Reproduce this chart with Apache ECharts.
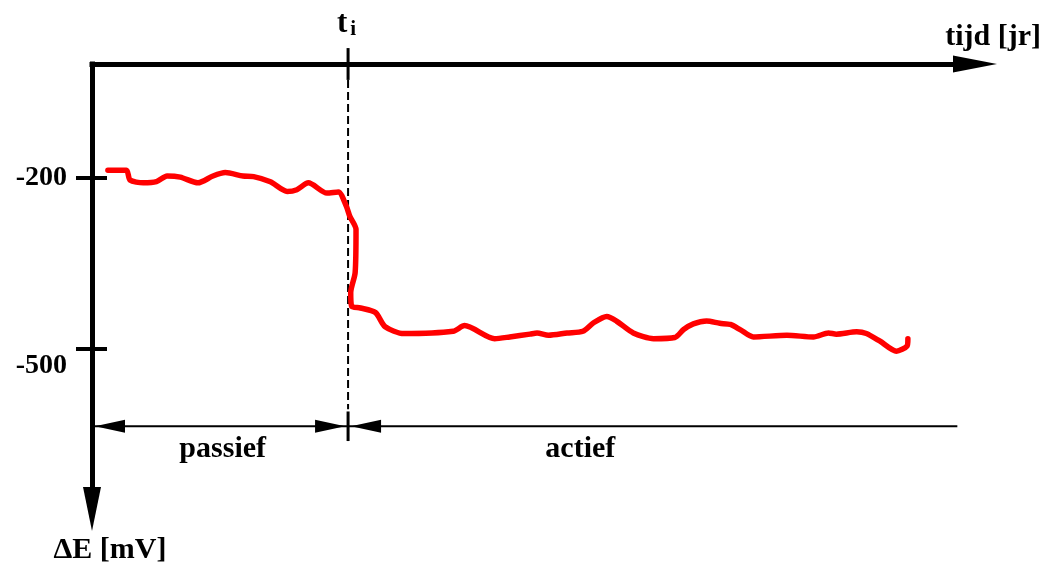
<!DOCTYPE html>
<html><head><meta charset="utf-8">
<script src="https://cdn.jsdelivr.net/npm/echarts@6/dist/echarts.min.js"></script>
<style>html,body{margin:0;padding:0;background:#fff}#c{width:1044px;height:565px}</style>
</head><body><div id="c"></div>
<script>
// time (arbitrary units, 0..100 along the axis)
const timeVals = [1.8, 3.9, 4.3, 5.8, 7.3, 8.5, 10.0, 12.0, 13.7, 15.1, 17.1, 18.3, 20.2, 22.1, 23.2,
  24.5, 26.6, 27.9, 28.8, 29.2, 29.9, 29.8, 29.3, 29.4, 30.4, 32.1, 33.2, 35.3, 40.9, 42.2,
  45.6, 47.3, 49.6, 50.4, 51.7, 53.8, 55.6, 56.8, 58.3, 59.4, 61.3, 63.6, 66.0, 67.0, 68.1,
  69.6, 71.1, 72.3, 73.4, 74.9, 78.7, 81.7, 83.4, 84.3, 86.6, 87.7, 89.2, 91.1, 92.3, 92.4];
// potential difference ΔE [mV]
const dEVals = [-187, -187, -204, -209, -207, -197, -199, -209, -197, -191, -197, -198, -207, -224, -221,
  -209, -227, -225, -250, -268, -291, -367, -402, -426, -429, -437, -462, -474, -470, -460,
  -483, -480, -475, -473, -477, -473, -470, -455, -444, -452, -473, -483, -481, -467, -457,
  -452, -456, -458, -467, -480, -477, -480, -473, -475, -471, -474, -487, -505, -496, -483];
const yTickValues = [-200, -500];
const tI = 29.0;            // moment of initiation t_i
const xMin = 0, xMax = 100;
const yMin = -782.5, yMax = 0;
const phaseLabels = ['passief', 'actief'];
const xName = 'tijd [jr]';
const yName = 'ΔE [mV]';

const serif = 'Liberation Serif';
const lineData = timeVals.map((t, i) => [t, dEVals[i]]);

const chart = echarts.init(document.getElementById('c'), null, {renderer: 'canvas'});

function ann(params, api) {
  const dimY = -637, dimEnd = 98;
  const top = api.coord([tI, 28]);
  const a = api.coord([tI, -28]);
  const b = api.coord([tI, -607]);
  const c = api.coord([tI, -611]);
  const d = api.coord([tI, -663]);
  const L0 = api.coord([xMin, dimY]);
  const L1 = api.coord([dimEnd, dimY]);
  const ah = 30, aw = 6.5;
  const tipL = [L0[0] + 3, L0[1]];
  const tipR = [a[0] - 3, L0[1]];
  const tipA = [a[0] + 3, L0[1]];
  const pT = api.coord([14.8, -677]);
  const aT = api.coord([55.3, -677]);
  const z = api.coord([tI, 0]);
  const e = api.coord([xMax, 0]);
  const txt = (x, y, s, size, align) => ({type: 'text', x: x, y: y,
    style: {text: s, fill: '#000', fontSize: size, fontFamily: serif, fontWeight: 'bold', align: align || 'center', verticalAlign: 'middle'}});
  return {type: 'group', children: [
    {type: 'line', shape: {x1: top[0], y1: top[1], x2: a[0], y2: a[1]}, style: {stroke: '#000', lineWidth: 3}},
    {type: 'line', shape: {x1: a[0], y1: a[1], x2: b[0], y2: b[1]}, style: {stroke: '#000', lineWidth: 2, lineDash: [8, 4]}},
    {type: 'line', shape: {x1: c[0], y1: c[1], x2: d[0], y2: d[1]}, style: {stroke: '#000', lineWidth: 3}},
    {type: 'line', shape: {x1: L0[0], y1: L0[1], x2: L1[0], y2: L1[1]}, style: {stroke: '#000', lineWidth: 2}},
    {type: 'polygon', shape: {points: [tipL, [tipL[0] + ah, tipL[1] - aw], [tipL[0] + ah, tipL[1] + aw]]}, style: {fill: '#000'}},
    {type: 'polygon', shape: {points: [tipR, [tipR[0] - ah, tipR[1] - aw], [tipR[0] - ah, tipR[1] + aw]]}, style: {fill: '#000'}},
    {type: 'polygon', shape: {points: [tipA, [tipA[0] + ah, tipA[1] - aw], [tipA[0] + ah, tipA[1] + aw]]}, style: {fill: '#000'}},
    txt(pT[0], pT[1], phaseLabels[0], 30),
    txt(aT[0], aT[1], phaseLabels[1], 30),
    txt(z[0] - 6, z[1] - 40, 't', 31),
    txt(z[0] + 5, z[1] - 34, 'i', 21),
    txt(e[0] + 66, e[1] - 27, xName, 30, 'right')
  ]};
}

const yCommon = {type: 'value', min: yMin, max: yMax, position: 'left', splitLine: {show: false}};

chart.setOption({
  animation: false,
  grid: {left: 92, top: 64, width: 883, height: 446, containLabel: false},
  xAxis: {
    type: 'value', min: xMin, max: xMax, position: 'top',
    axisLine: {onZero: false, symbol: ['none', 'triangle'], symbolSize: [17, 44],
      lineStyle: {color: '#000', width: 5, cap: 'square'}},
    axisTick: {show: false}, axisLabel: {show: false}, splitLine: {show: false}
  },
  yAxis: [
    Object.assign({}, yCommon, {
      axisLine: {symbol: ['triangle', 'none'], symbolSize: [18, 44],
        lineStyle: {color: '#000', width: 5, cap: 'square'}},
      axisTick: {show: true, inside: false, length: 16, customValues: yTickValues,
        lineStyle: {color: '#000', width: 4}},
      axisLabel: {show: true, customValues: yTickValues, margin: 25,
        formatter: v => (v === -500 ? '{lo|' + v + '}' : '{hi|' + v + '}'),
        rich: {
          hi: {color: '#000', fontSize: 28, fontFamily: serif, fontWeight: 'bold'},
          lo: {color: '#000', fontSize: 28, fontFamily: serif, fontWeight: 'bold', padding: [34, 0, 0, 0]}
        }},
      name: yName, nameLocation: 'start', nameGap: 41,
      nameTextStyle: {color: '#000', fontSize: 30, fontFamily: serif, fontWeight: 'bold',
        align: 'center', verticalAlign: 'middle', padding: [0, 0, 0, 36]}
    }),
    Object.assign({}, yCommon, {
      axisLine: {show: false},
      axisTick: {show: true, inside: true, length: 15, customValues: yTickValues,
        lineStyle: {color: '#000', width: 4}},
      axisLabel: {show: false}
    })
  ],
  series: [
    {type: 'line', data: lineData, xAxisIndex: 0, yAxisIndex: 0, showSymbol: false, smooth: 0.25,
      lineStyle: {color: '#ff0000', width: 5.5, join: 'round', cap: 'round'}, z: 3},
    {type: 'custom', data: [[tI, 0]], xAxisIndex: 0, yAxisIndex: 0, renderItem: ann, silent: true, z: 2}
  ]
});
</script>
</body></html>
